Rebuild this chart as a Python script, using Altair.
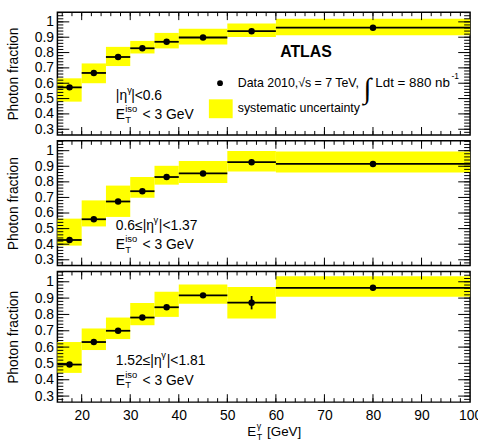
import altair as alt
import pandas as pd

FONT = "Liberation Sans"
W = 417
HEIGHTS = [124, 126, 132]
YELLOW = "#ffff00"

# E_T^gamma bins in GeV
bin_lo = [15, 20, 25, 30, 35, 40, 50, 60]
bin_hi = [20, 25, 30, 35, 40, 50, 60, 100]
bin_mid = [17.5, 22.5, 27.5, 32.5, 37.5, 45, 55, 80]

# |eta| < 0.6
frac_a = [0.573, 0.667, 0.771, 0.828, 0.870, 0.898, 0.939, 0.962]
syst_lo_a = [0.480, 0.600, 0.712, 0.794, 0.827, 0.853, 0.902, 0.913]
syst_hi_a = [0.632, 0.729, 0.837, 0.876, 0.928, 0.955, 0.989, 1.020]
stat_a = [0.010, 0.010, 0.010, 0.010, 0.010, 0.010, 0.010, 0.010]

# 0.6 <= |eta| < 1.37
frac_b = [0.427, 0.560, 0.674, 0.740, 0.831, 0.854, 0.926, 0.915]
syst_lo_b = [0.391, 0.514, 0.575, 0.698, 0.782, 0.793, 0.867, 0.860]
syst_hi_b = [0.564, 0.681, 0.776, 0.831, 0.903, 0.934, 0.998, 0.994]
stat_b = [0.010, 0.010, 0.010, 0.010, 0.010, 0.010, 0.010, 0.010]

# 1.52 <= |eta| < 1.81
frac_c = [0.493, 0.631, 0.700, 0.781, 0.844, 0.917, 0.872, 0.963]
syst_lo_c = [0.442, 0.582, 0.649, 0.734, 0.785, 0.866, 0.775, 0.909]
syst_hi_c = [0.631, 0.714, 0.781, 0.870, 0.939, 0.984, 0.968, 1.034]
stat_c = [0.010, 0.010, 0.010, 0.010, 0.010, 0.010, 0.041, 0.015]

# Axis ticks
y_labels = [0.3, 0.4, 0.5, 0.6, 0.7, 0.8, 0.9, 1.0]
y_minor = [round(0.28 + 0.02 * i, 2) for i in range(40)]
x_labels = [20, 30, 40, 50, 60, 70, 80, 90, 100]
x_minor = list(range(16, 100, 2))

xs = alt.Scale(domain=[15, 100], nice=False, zero=False)
ys = alt.Scale(domain=[0.263, 1.063], nice=False, zero=False)

Y_AXIS = alt.Axis(values=y_labels, ticks=False, tickSize=0, domain=False,
                  grid=False, format=".1~f", labelPadding=4, labelFontSize=14,
                  labelFont=FONT, title="Photon fraction", titleFont=FONT,
                  titleFontSize=14, titleFontWeight="normal", titlePadding=14)
X_AXIS = alt.Axis(values=x_labels, ticks=False, tickSize=0, domain=False,
                  grid=False, labelPadding=7, labelFontSize=14, labelFlush=False,
                  labelFont=FONT, title=None)


class Panel:
    """Builds the layers of one eta-region panel on shared scales/axes."""

    def __init__(self, height, bottom):
        self.height = height
        self.x_axis = X_AXIS if bottom else None

    def X(self, field):
        return alt.X(field, type="quantitative", scale=xs, axis=self.x_axis)

    def Y(self, field):
        return alt.Y(field, type="quantitative", scale=ys, axis=Y_AXIS)

    def text(self, x, y, s, dx=0, dy=0, size=14, weight="normal", align="left",
             font=FONT):
        df = pd.DataFrame({"x": [x], "y": [y], "t": [s]})
        return alt.Chart(df).mark_text(
            align=align, baseline="middle", dx=dx, dy=dy, fontSize=size,
            font=font, fontWeight=weight, color="black"
        ).encode(x=self.X("x"), y=self.Y("y"), text="t:N")

    def ticks(self):
        h = self.height
        layers = []
        for vals, length in ((y_labels, 12), (y_minor, 6)):
            base = alt.Chart(pd.DataFrame({"v": vals})).mark_rule(color="black", strokeWidth=1)
            layers.append(base.encode(y=self.Y("v"), x=alt.value(0), x2=alt.value(length)))
            layers.append(base.encode(y=self.Y("v"), x=alt.value(W - length), x2=alt.value(W)))
        for vals, length in ((x_labels[:-1], 8), (x_minor, 4)):
            base = alt.Chart(pd.DataFrame({"v": vals})).mark_rule(color="black", strokeWidth=1)
            layers.append(base.encode(x=self.X("v"), y=alt.value(h), y2=alt.value(h - length)))
            layers.append(base.encode(x=self.X("v"), y=alt.value(0), y2=alt.value(length)))
        return layers

    def region_label(self, eta_pre, eta_post, sup_dx, post_dx):
        lx, l1, l2 = 27.03, 0.515, 0.395
        return [
            self.text(lx, l1, eta_pre),
            self.text(lx, l1, "γ", dx=sup_dx, dy=-6, size=9.5),
            self.text(lx, l1, eta_post, dx=post_dx),
            self.text(lx, l2, "E"),
            self.text(lx, l2, "T", dx=9.5, dy=5, size=9.5),
            self.text(lx, l2, "iso", dx=9.5, dy=-6, size=9.5),
            self.text(lx, l2, "< 3 GeV", dx=27),
        ]

    def data_layers(self, frac, lo, hi, stat):
        df = pd.DataFrame({
            "lo": bin_lo, "hi": bin_hi, "mid": bin_mid, "frac": frac,
            "slo": lo, "shi": hi,
            "elo": [f - s for f, s in zip(frac, stat)],
            "ehi": [f + s for f, s in zip(frac, stat)],
        })
        base = alt.Chart(df)
        bands = base.mark_rect(color=YELLOW).encode(
            x=self.X("lo"), x2="hi", y=self.Y("slo"), y2="shi")
        widths = base.mark_rule(color="black", strokeWidth=1.8).encode(
            x=self.X("lo"), x2="hi", y=self.Y("frac"))
        errs = base.mark_rule(color="black", strokeWidth=1.8).encode(
            x=self.X("mid"), y=self.Y("elo"), y2="ehi")
        pts = base.mark_circle(color="black", size=42, opacity=1).encode(
            x=self.X("mid"), y=self.Y("frac"))
        return [bands, widths, errs, pts]


def build(frac, lo, hi, stat, height, label, bottom=False, legend=False):
    p = Panel(height, bottom)
    layers = p.data_layers(frac, lo, hi, stat) + p.ticks() + p.region_label(*label)
    if legend:
        layers += [
            p.text(66.2, 0.80, "ATLAS", size=16, weight="bold", align="center"),
            alt.Chart(pd.DataFrame({"x": [48.5], "y": [0.60]})).mark_circle(
                color="black", size=34, opacity=1).encode(x=p.X("x"), y=p.Y("y")),
            p.text(52.14, 0.60, "Data 2010,√s = 7 TeV,", size=12.5),
            p.text(52.14, 0.56, "∫", dx=127, size=29, font="Liberation Serif"),
            p.text(52.14, 0.60, "Ldt = 880 nb", dx=139, size=13.5),
            p.text(52.14, 0.60, "-1", dx=216, dy=-7, size=8.5),
            alt.Chart(pd.DataFrame({"x": [46.2], "x2": [51.1], "y": [0.372], "y2": [0.495]}))
            .mark_rect(color=YELLOW).encode(x=p.X("x"), x2="x2", y=p.Y("y"), y2="y2"),
            p.text(52.14, 0.437, "systematic uncertainty", size=12.5),
        ]
    if bottom:
        # Rich-text x-axis title under the bottom panel
        for s, dx, dy, size in (("E", 0, 0, 13.5), ("T", 9.5, 5, 9),
                                ("γ", 9.5, -6, 9), ("[GeV]", 20, 0, 13.5)):
            layers.append(
                alt.Chart(pd.DataFrame({"x": [54.1], "t": [s]})).mark_text(
                    align="left", baseline="middle", dx=dx, dy=dy, fontSize=size,
                    font=FONT, color="black"
                ).encode(x=p.X("x"), y=alt.value(height + 30.5), text="t:N")
            )
    return alt.layer(*layers).properties(width=W, height=height)


p1 = build(frac_a, syst_lo_a, syst_hi_a, stat_a, HEIGHTS[0],
           ("|η", "|<0.6", 11.5, 15.5), legend=True)
p2 = build(frac_b, syst_lo_b, syst_hi_b, stat_b, HEIGHTS[1],
           ("0.6≤|η", "|<1.37", 38, 43.5))
p3 = build(frac_c, syst_lo_c, syst_hi_c, stat_c, HEIGHTS[2],
           ("1.52≤|η", "|<1.81", 46, 51.5), bottom=True)

# The last x label sits on the frame edge and runs past the page; the
# negative right padding lets the page width end just after the frame.
chart = alt.vconcat(p1, p2, p3, spacing=6, bounds="flush").properties(
    padding={"left": 5, "top": 8, "right": -5, "bottom": 0},
    background="white",
).configure_view(stroke="black", strokeWidth=1.5)

chart.save("out.html", embed_options={"renderer": "svg", "actions": False})
